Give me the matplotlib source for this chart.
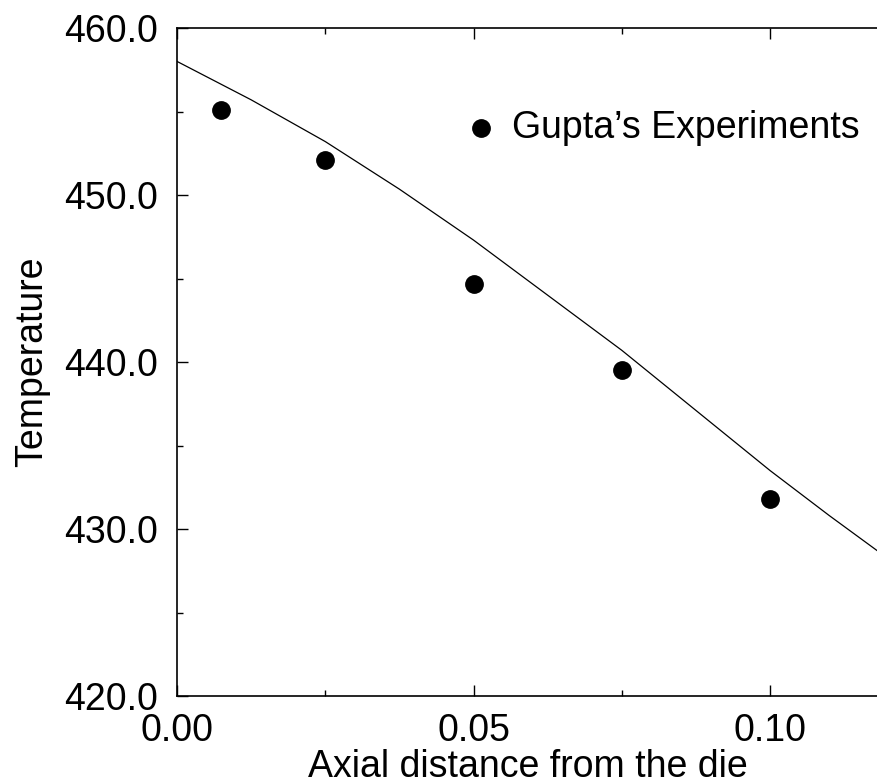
"""
Axial temperature profile below the die: model curve against
Gupta's measured points.
"""

import matplotlib
matplotlib.use("Agg")

import matplotlib.pyplot as plt
from matplotlib.ticker import MultipleLocator, FormatStrFormatter

# model prediction along the axis
model_x = [0.0, 0.0125, 0.025, 0.0375, 0.05, 0.0625, 0.075, 0.0875,
           0.10, 0.11, 0.12]
model_t = [458.0, 455.7, 453.2, 450.35, 447.3, 444.0, 440.7, 437.1,
           433.5, 430.8, 428.2]

# Gupta's experiments
exp_x = [0.0075, 0.025, 0.05, 0.075, 0.10]
exp_t = [455.1, 452.1, 444.7, 439.5, 431.8]

plt.rcParams['font.family'] = ['Liberation Sans', 'DejaVu Sans']

W, H = 878, 784
fig = plt.figure(figsize=(W / 100, H / 100), dpi=100)
left, right, top, bottom = 177, 878, 28, 696
ax = fig.add_axes([left / W, 1 - bottom / H, (right - left) / W,
                   (bottom - top) / H])

ax.plot(model_x, model_t, color='black', lw=0.9)
ax.plot(exp_x, exp_t, 'o', color='black', ms=12.5)

ax.set_xlim(0, 0.1182)
ax.set_ylim(420, 460)

ax.xaxis.set_major_locator(MultipleLocator(0.05))
ax.xaxis.set_minor_locator(MultipleLocator(0.025))
ax.yaxis.set_major_locator(MultipleLocator(10))
ax.yaxis.set_minor_locator(MultipleLocator(5))
ax.xaxis.set_major_formatter(FormatStrFormatter('%.2f'))
ax.yaxis.set_major_formatter(FormatStrFormatter('%.1f'))

ax.spines['right'].set_visible(False)
for s in ('left', 'bottom', 'top'):
    ax.spines[s].set_linewidth(1.2)

ax.tick_params(which='both', direction='in', top=True, right=False,
               labelsize=27, width=1.0)
ax.tick_params(which='major', length=8)
ax.tick_params(which='minor', length=4)
ax.tick_params(axis='y', pad=14)
ax.tick_params(axis='x', pad=12)

ax.set_xlabel('Axial distance from the die', fontsize=27, labelpad=0)
ax.set_ylabel('Temperature', fontsize=27, labelpad=10)

# legend entry drawn by hand
ax.plot([0.0512], [454.0], 'o', color='black', ms=12.5)
ax.text(0.0565, 454.0, "Gupta\u2019s Experiments", fontsize=27,
        va='center', ha='left')

fig.savefig('out.png', dpi=100)
